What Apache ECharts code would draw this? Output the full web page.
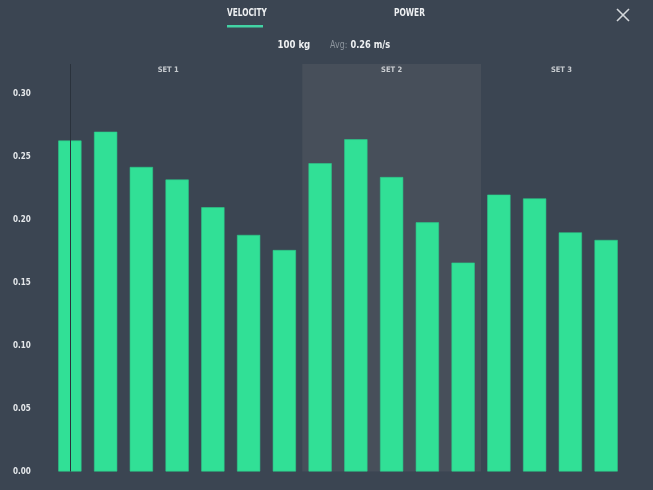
<!DOCTYPE html>
<html>
<head>
<meta charset="utf-8">
<script src="https://cdn.jsdelivr.net/npm/echarts@6/dist/echarts.min.js"></script>
<style>
html,body{margin:0;padding:0;background:#3b4552;}
#c{width:653px;height:490px;}
</style>
</head>
<body>
<div id="c"></div>
<script>
var categories = ['1','2','3','4','5','6','7','8','9','10','11','12','13','14','15','16'];
var velocity = [0.263,0.270,0.242,0.232,0.210,0.188,0.176,0.245,0.264,0.234,0.198,0.166,0.220,0.217,0.190,0.184];
var setNames = ['SET 1','SET 2','SET 3'];
var setLabelPos = [3.25, 9.5, 14.25];
var highlightSet = [7, 12];
var yTicks = [0, 0.05, 0.10, 0.15, 0.20, 0.25, 0.30];

var FONT = '"DejaVu Sans Condensed", "DejaVu Sans", sans-serif';
var HFONT = '"DejaVu Sans", sans-serif';
var chart = echarts.init(document.getElementById('c'), null, {renderer:'canvas'});
var yMax = 0.3238;

function htext(x, y, txt, color, weight, sx) {
  return {type:'text', x: x, y: y, scaleX: sx, scaleY: 1,
          style:{text: txt, fill: color, font: weight + ' 11px ' + HFONT, textVerticalAlign:'top'}};
}

chart.setOption({
  backgroundColor: '#3b4552',
  animation: false,
  grid: {left: 52, right: 29, top: 64, bottom: 18.5},
  xAxis: [
    {type:'category', data: categories, boundaryGap: true, show: false},
    {type:'value', min: 0, max: categories.length, show: false}
  ],
  yAxis: {
    type: 'value', min: 0, max: yMax, interval: 0.05,
    splitLine: {show:false}, axisLine:{show:false}, axisTick:{show:false},
    axisLabel: {
      show: true, align: 'left', margin: 39, color: '#e4e7ea',
      fontFamily: FONT, fontWeight: 'bold', fontSize: 8,
      formatter: function(v){ return yTicks.some(function(t){return Math.abs(t-v)<1e-9;}) ? v.toFixed(2) : ''; },
      showMaxLabel: false
    }
  },
  series: [
    {
      type: 'scatter', xAxisIndex: 1, z: 1,
      symbolSize: 0,
      data: setNames.map(function(n,i){ return {value:[setLabelPos[i], yMax], name:n}; }),
      label: {show:true, position:'bottom', distance: 2.5, formatter:'{b}', color:'#e8ebee',
              fontFamily: FONT, fontWeight:'bold', fontSize: 7.5},
      markArea: {
        silent: true,
        itemStyle: {color:'#474f5a'},
        data: [[{xAxis: highlightSet[0]}, {xAxis: highlightSet[1]}]]
      }
    },
    {
      type: 'bar', xAxisIndex: 0, z: 3,
      data: velocity,
      barWidth: '65%',
      itemStyle: {color:'#31e096', borderColor:'#2cc98a', borderWidth: 0.6},
      markLine: {
        silent: true, symbol: ['none','none'], z: 5,
        label: {show:false},
        lineStyle: {color:'#2a323c', width:1, type:'solid'},
        data: [{xAxis: categories[0]}]
      }
    }
  ],
  graphic: [
    htext(227, 8, 'VELOCITY', '#eef0f2', 'bold', 0.67),
    {type:'rect', shape:{x:227, y:25, width:36, height:2.5}, style:{fill:'#42d3a4'}},
    htext(394, 8, 'POWER', '#eef0f2', 'bold', 0.68),
    htext(277.5, 40, '100 kg', '#eef0f2', 'bold', 0.78),
    htext(330, 40, 'Avg:', '#8c949d', 'normal', 0.72),
    htext(350.5, 40, '0.26 m/s', '#eef0f2', 'bold', 0.75),
    {type:'line', shape:{x1:617, y1:9, x2:629, y2:21}, style:{stroke:'#d3d7db', lineWidth:1.6}},
    {type:'line', shape:{x1:629, y1:9, x2:617, y2:21}, style:{stroke:'#d3d7db', lineWidth:1.6}}
  ]
});
</script>
</body>
</html>
